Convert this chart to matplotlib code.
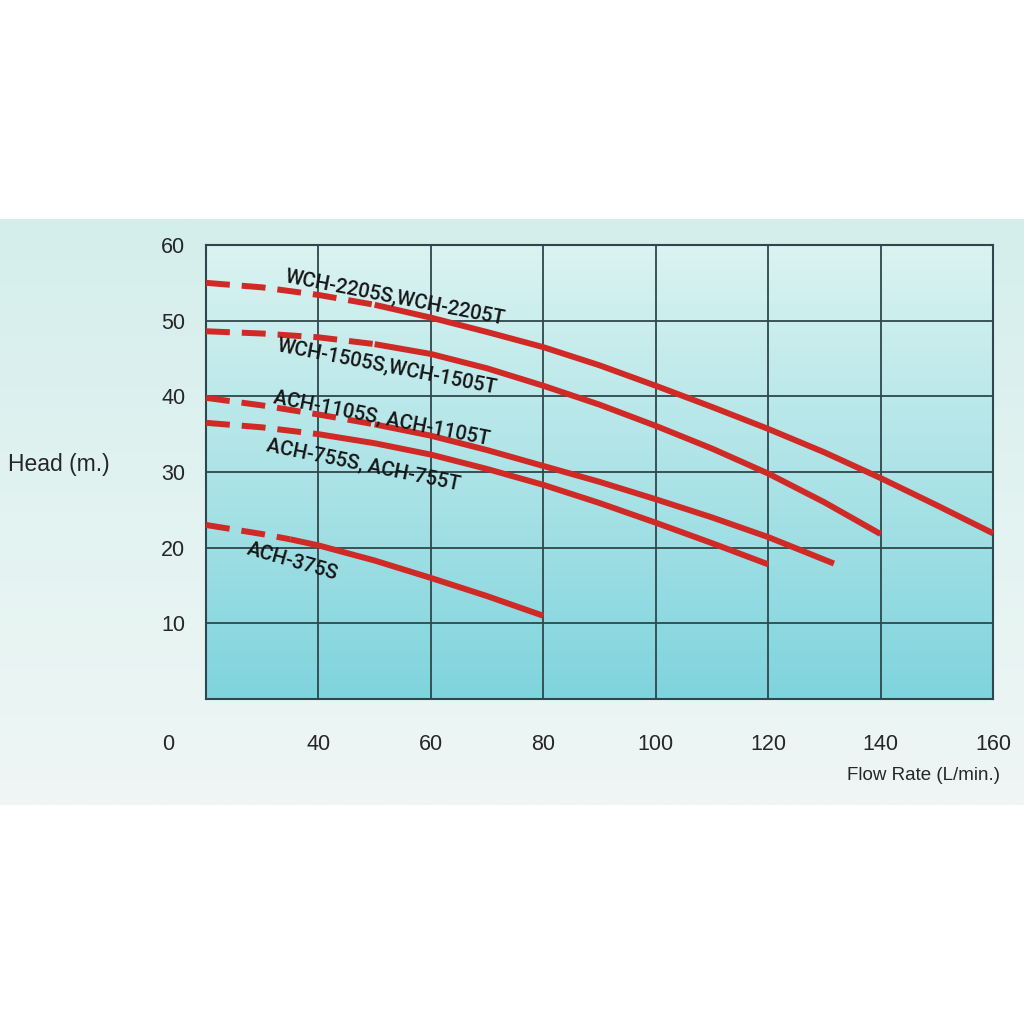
import matplotlib
matplotlib.use('Agg')
import matplotlib.pyplot as plt
import numpy as np
from matplotlib.colors import LinearSegmentedColormap

# ---- data ----
flow_2205 = [20, 30, 40, 50, 60, 70, 80, 90, 100, 110, 120, 130, 140, 150, 160]
head_2205 = [55.0, 54.4, 53.4, 52.1, 50.4, 48.5, 46.5, 44.1, 41.4, 38.6, 35.7, 32.6, 29.2, 25.6, 21.9]

flow_1505 = [20, 30, 40, 50, 60, 70, 80, 90, 100, 110, 120, 130, 140]
head_1505 = [48.6, 48.3, 47.8, 46.9, 45.6, 43.7, 41.4, 38.9, 36.1, 33.1, 29.8, 26.0, 21.8]

flow_1105 = [20, 30, 40, 50, 60, 70, 80, 90, 100, 110, 120, 131.7]
head_1105 = [39.8, 38.8, 37.6, 36.3, 34.8, 32.9, 30.8, 28.7, 26.4, 24.0, 21.4, 17.9]

flow_755 = [20, 30, 40, 50, 60, 70, 80, 90, 100, 110, 120]
head_755 = [36.5, 35.9, 35.0, 33.8, 32.3, 30.4, 28.3, 25.9, 23.3, 20.6, 17.8]

flow_375 = [20, 30, 35, 40, 50, 60, 70, 80]
head_375 = [23.0, 21.8, 21.1, 20.3, 18.3, 16.0, 13.6, 11.0]

series_flows = [flow_2205, flow_1505, flow_1105, flow_755, flow_375]
series_heads = [head_2205, head_1505, head_1105, head_755, head_375]
dashed_until = [50, 50, 50, 40, 35]

series_labels = ["WCH-2205S,WCH-2205T", "WCH-1505S,WCH-1505T",
                 "ACH-1105S, ACH-1105T", "ACH-755S, ACH-755T", "ACH-375S"]
label_x = [53.6, 52.2, 51.2, 48.0, 35.4]
label_y = [53.1, 43.9, 37.1, 31.0, 18.2]
label_rot = [-11, -11, -11, -11.5, -16]

x_ticks = [40, 60, 80, 100, 120, 140, 160]
y_ticks = [10, 20, 30, 40, 50, 60]

# ---- figure ----
W = H = 1024
fig = plt.figure(figsize=(10.24, 10.24), dpi=100)
fig.patch.set_facecolor('white')

# light cyan band behind the chart
band = fig.add_axes([0, 1 - 805 / H, 1, (805 - 219) / H], zorder=0)
band_cmap = LinearSegmentedColormap.from_list('band', ['#d4eeec', '#e2f3f1', '#eff6f5'])
band.imshow(np.linspace(0, 1, 256).reshape(-1, 1), aspect='auto', cmap=band_cmap,
            extent=[0, 1, 0, 1], origin='upper')
band.set_axis_off()

ax = fig.add_axes([206 / W, 1 - 699 / H, (993 - 206) / W, (699 - 245) / H], zorder=1)
ax.set_xlim(20, 160)
ax.set_ylim(0, 60)
ax.patch.set_alpha(0)

plot_cmap = LinearSegmentedColormap.from_list('plot', ['#dbf3f1', '#7fd4dd'])
ax.imshow(np.linspace(0, 1, 256).reshape(-1, 1), aspect='auto', cmap=plot_cmap,
          extent=[20, 160, 0, 60], origin='upper', zorder=0)

grid_color = '#2e474c'
ax.set_xticks(x_ticks)
ax.set_yticks(y_ticks)
ax.grid(True, color=grid_color, linewidth=1.3, zorder=1)
ax.set_axisbelow(False)
for sp in ax.spines.values():
    sp.set_color(grid_color)
    sp.set_linewidth(1.5)
ax.tick_params(length=0, colors='#2a2a2a')
ax.tick_params(axis='y', pad=15)
ax.tick_params(axis='x', pad=25)
for lbl in ax.get_xticklabels() + ax.get_yticklabels():
    lbl.set_fontfamily('Liberation Sans')
    lbl.set_fontsize(15.5)
    lbl.set_color('#262626')

red = '#cf2a25'
lw = 4.3
for fl, hd, du in zip(series_flows, series_heads, dashed_until):
    fl = np.array(fl, dtype=float)
    hd = np.array(hd, dtype=float)
    m1 = fl <= du
    m2 = fl >= du
    ax.plot(fl[m1], hd[m1], color=red, lw=lw, linestyle=(0, (4.0, 2.0)),
            dash_capstyle='butt', solid_joinstyle='round', zorder=3, clip_on=False)
    ax.plot(fl[m2], hd[m2], color=red, lw=lw, solid_capstyle='butt',
            solid_joinstyle='round', zorder=3, clip_on=False)

for t, x, y, r in zip(series_labels, label_x, label_y, label_rot):
    ax.text(x, y, t, rotation=r, rotation_mode='anchor', ha='center', va='center',
            fontsize=14.5, color='#161616', family=['Roboto', 'DejaVu Sans'],
            fontweight='medium', zorder=4)

fig.text(168 / W, 1 - 744 / H, '0', ha='center', va='center', fontsize=15.5,
         family='Liberation Sans', color='#262626')
fig.text(8 / W, 1 - 465 / H, 'Head (m.)', ha='left', va='center', fontsize=16.5,
         family='Liberation Sans', color='#262626')
fig.text(1000 / W, 1 - 776 / H, 'Flow Rate (L/min.)', ha='right', va='center',
         fontsize=13.5, family='Liberation Sans', color='#262626')

fig.savefig('out.png', dpi=100)
